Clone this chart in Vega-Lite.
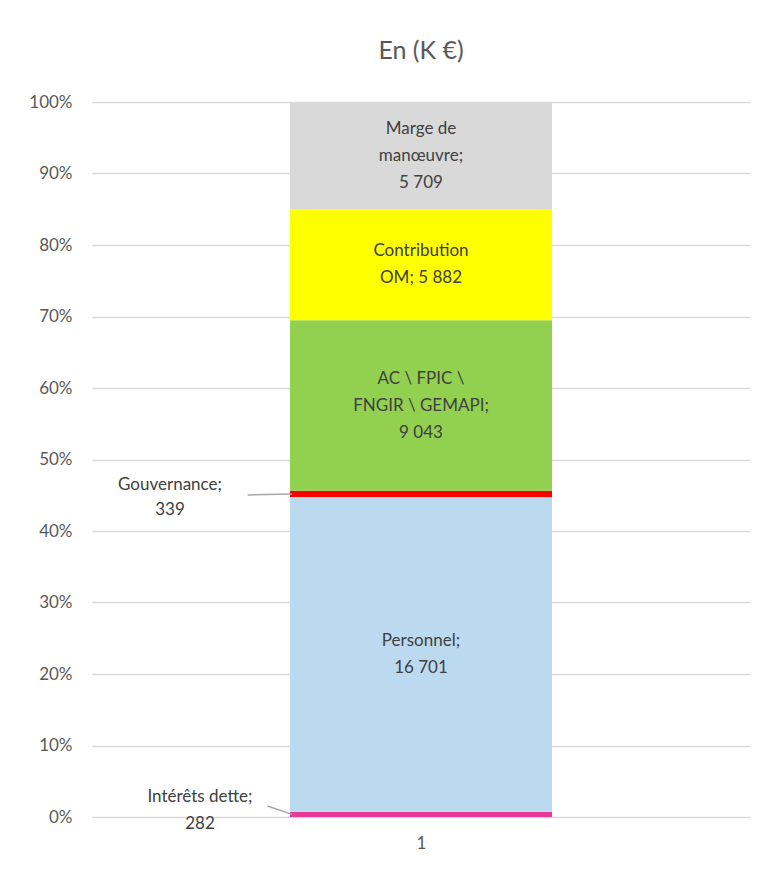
{
  "$schema": "https://vega.github.io/schema/vega-lite/v6.json",
  "width": 658,
  "height": 715,
  "autosize": {"type": "none"},
  "padding": {"left": 92, "top": 102, "right": 7, "bottom": 54},
  "background": "white",
  "title": {"text": "En (K €)", "fontSize": 25, "font": "Lato", "fontWeight": "normal", "color": "#595959", "anchor": "middle", "offset": 29},
  "config": {
    "view": {"stroke": null},
    "font": "Lato",
    "axis": {"labelFont": "Lato", "labelFontSize": 17, "labelColor": "#595959", "ticks": false, "domain": false, "title": null}
  },
  "data": {
    "values": [
      {"x": 1, "cat": "Intérêts dette", "v": 282, "order": 1, "label": "Intérêts dette;\n282", "lines": 2, "pos": "out"},
      {"x": 1, "cat": "Personnel", "v": 16701, "order": 2, "label": "Personnel;\n16 701", "lines": 2, "pos": "in"},
      {"x": 1, "cat": "Gouvernance", "v": 339, "order": 3, "label": "Gouvernance;\n339", "lines": 2, "pos": "out"},
      {"x": 1, "cat": "AC \\ FPIC \\ FNGIR \\ GEMAPI", "v": 9043, "order": 4, "label": "AC \\ FPIC \\\nFNGIR \\ GEMAPI;\n9 043", "lines": 3, "pos": "in"},
      {"x": 1, "cat": "Contribution OM", "v": 5882, "order": 5, "label": "Contribution\nOM; 5 882", "lines": 2, "pos": "in"},
      {"x": 1, "cat": "Marge de manœuvre", "v": 5709, "order": 6, "label": "Marge de\nmanœuvre;\n5 709", "lines": 3, "pos": "in"}
    ]
  },
  "transform": [
    {"stack": "v", "groupby": ["x"], "sort": [{"field": "order", "order": "ascending"}], "offset": "normalize", "as": ["y0", "y1"]},
    {"calculate": "(datum.y0 + datum.y1) / 2", "as": "ym"}
  ],
  "encoding": {
    "x": {"field": "x", "type": "quantitative", "scale": {"domain": [0, 2]}, "axis": {"values": [1], "format": "d", "grid": false, "labelPadding": 18}},
    "y": {"field": "y0", "type": "quantitative", "scale": {"domain": [0, 1]}, "axis": {"values": [0, 0.1, 0.2, 0.3, 0.4, 0.5, 0.6, 0.7, 0.8, 0.9, 1], "format": ".0%", "grid": true, "gridColor": "#d9d9d9", "gridWidth": 1.5, "labelPadding": 20}}
  },
  "layer": [
    {
      "mark": {"type": "bar", "width": 262},
      "encoding": {
        "y2": {"field": "y1"},
        "color": {"field": "cat", "type": "nominal", "legend": null,
          "scale": {"domain": ["Intérêts dette", "Personnel", "Gouvernance", "AC \\ FPIC \\ FNGIR \\ GEMAPI", "Contribution OM", "Marge de manœuvre"],
                    "range": ["#e8399a", "#bbdaf0", "#ff0000", "#92d050", "#ffff00", "#d9d9d9"]}}
      }
    },
    {
      "transform": [{"filter": "datum.pos == 'in' && datum.lines == 3"}],
      "mark": {"type": "text", "fontSize": 17, "color": "#404040", "lineBreak": "\n", "lineHeight": 27, "baseline": "middle", "align": "center", "dy": -27},
      "encoding": {"y": {"field": "ym", "type": "quantitative"}, "text": {"field": "label"}}
    },
    {
      "transform": [{"filter": "datum.pos == 'in' && datum.lines == 2"}],
      "mark": {"type": "text", "fontSize": 17, "color": "#404040", "lineBreak": "\n", "lineHeight": 27, "baseline": "middle", "align": "center", "dy": -13.5},
      "encoding": {"y": {"field": "ym", "type": "quantitative"}, "text": {"field": "label"}}
    },
    {
      "transform": [{"filter": "datum.cat == 'Gouvernance'"}],
      "mark": {"type": "text", "fontSize": 17, "color": "#404040", "lineBreak": "\n", "lineHeight": 25, "baseline": "middle", "align": "center", "dx": -251, "dy": -9},
      "encoding": {"y": {"field": "ym", "type": "quantitative"}, "text": {"field": "label"}}
    },
    {
      "transform": [{"filter": "datum.cat == 'Intérêts dette'"}],
      "mark": {"type": "text", "fontSize": 17, "color": "#404040", "lineBreak": "\n", "lineHeight": 27, "baseline": "middle", "align": "center", "dx": -221, "dy": -17},
      "encoding": {"y": {"field": "ym", "type": "quantitative"}, "text": {"field": "label"}}
    },
    {
      "transform": [{"filter": "datum.cat == 'Gouvernance'"}],
      "mark": {"type": "rule", "color": "#a6a6a6", "strokeWidth": 1.5},
      "encoding": {"x": {"datum": 0.465}, "x2": {"datum": 0.602}, "y": {"datum": 0.4505}, "y2": {"field": "ym"}}
    },
    {
      "transform": [{"filter": "datum.cat == 'Intérêts dette'"}],
      "mark": {"type": "rule", "color": "#a6a6a6", "strokeWidth": 1.5},
      "encoding": {"x": {"datum": 0.526}, "x2": {"datum": 0.602}, "y": {"datum": 0.0154}, "y2": {"field": "ym"}}
    }
  ]
}
